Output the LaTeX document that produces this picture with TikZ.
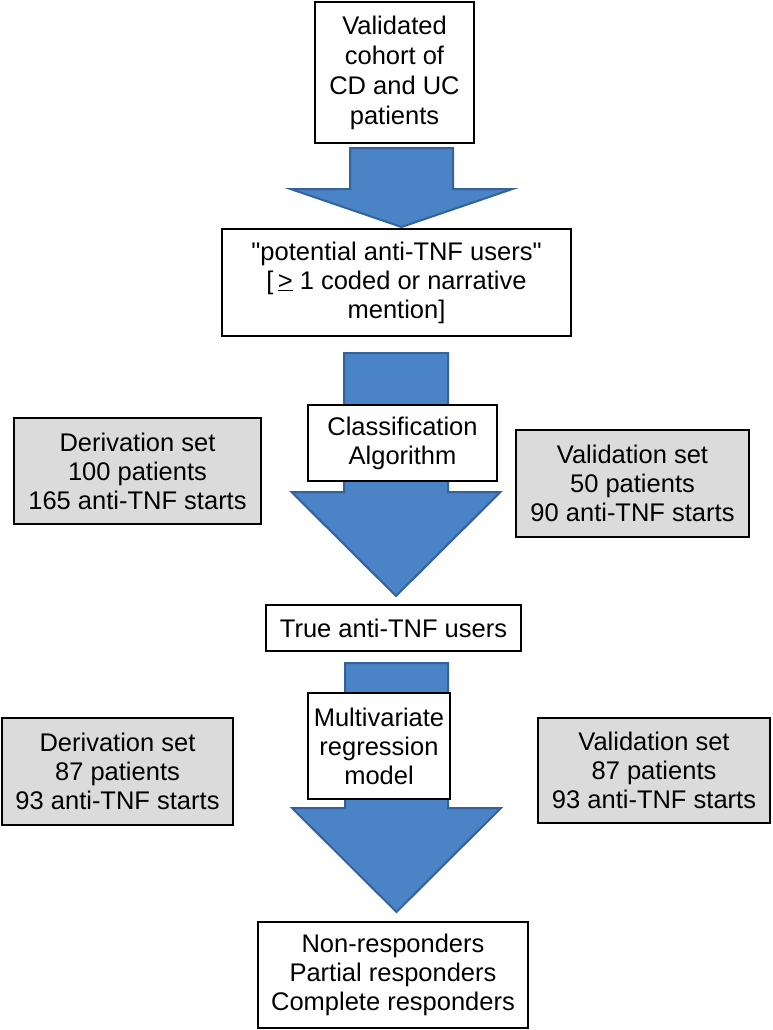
\documentclass[tikz,border=0pt]{standalone}
\usepackage{fontspec}
\newfontfamily\arialf{Liberation Sans}
\usetikzlibrary{backgrounds}
\definecolor{arrowfill}{HTML}{4A83C6}
\definecolor{arrowline}{HTML}{34629C}
\definecolor{grayfill}{HTML}{DBDBDB}
\newcommand\blockarr[6]{%
  \draw[blockarrow] ({#1-#5},#2) -- ({#1+#5},#2) -- ({#1+#5},#3) -- ({#1+#6},#3)
    -- (#1,#4) -- ({#1-#6},#3) -- ({#1-#5},#3) -- cycle;}
\begin{document}
\begin{tikzpicture}[x=1pt,y=-1pt,
  box/.style={draw=black, line width=1.3pt, fill=white, inner sep=0pt, align=center,
    font=\arialf\fontsize{25.5}{29}\selectfont, text=black},
  graybox/.style={box, fill=grayfill},
  blockarrow/.style={fill=arrowfill, draw=arrowline, line width=2pt, line join=miter}]
\useasboundingbox (0,0) rectangle (772,1030);

\node[box, minimum width=159pt, minimum height=141pt, font=\arialf\fontsize{25.5}{30}\selectfont] (b1) at (394.5,72.5)
  {Validated\\cohort of\\CD and UC\\patients};
\node[box, minimum width=349pt, minimum height=107pt] (b2) at (396.5,282.5)
  {"potential anti-TNF users"\\{[}\,\underline{>} 1 coded or narrative\\mention{]}};
\node[box, minimum width=189pt, minimum height=76pt] (cls) at (402.5,443)
  {Classification\\Algorithm};
\node[graybox, minimum width=247pt, minimum height=106pt] (d1) at (137.5,471)
  {Derivation set\\100 patients\\165 anti-TNF starts};
\node[graybox, minimum width=233pt, minimum height=107pt] (v1) at (632.5,483.5)
  {Validation set\\50 patients\\90 anti-TNF starts};
\node[box, minimum width=255pt, minimum height=46pt] (tru) at (393.5,628)
  {True anti-TNF users};
\node[box, minimum width=142pt, minimum height=106pt] (mul) at (379,746)
  {Multivariate\\regression\\model};
\node[graybox, minimum width=231pt, minimum height=107pt] (d2) at (117.5,771.5)
  {Derivation set\\87 patients\\93 anti-TNF starts};
\node[graybox, minimum width=232pt, minimum height=105pt] (v2) at (654,770.5)
  {Validation set\\87 patients\\93 anti-TNF starts};
\node[box, minimum width=270pt, minimum height=106pt] (res) at (393,975)
  {Non-responders\\Partial responders\\Complete responders};

\begin{scope}[on background layer]
  \blockarr{401.5}{148}{189}{227}{51.5}{111}
  \blockarr{396}{353}{492}{596}{52}{104.5}
  \blockarr{396.5}{663}{808}{912}{51.5}{104.5}
\end{scope}
\end{tikzpicture}
\end{document}
